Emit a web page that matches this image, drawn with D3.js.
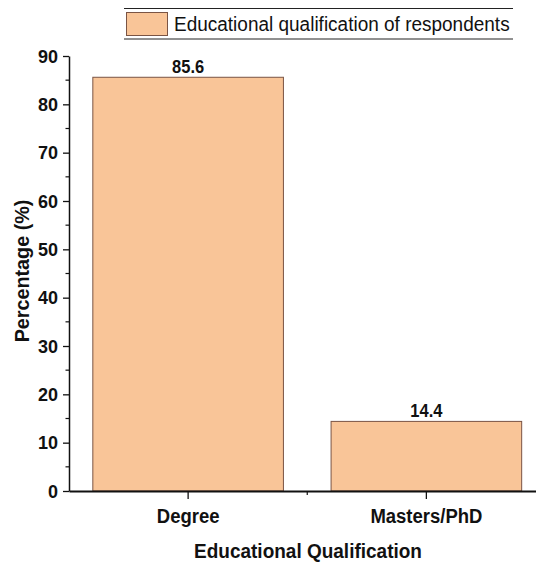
<!DOCTYPE html>
<html>
<head>
<meta charset="utf-8">
<script src="https://cdn.jsdelivr.net/npm/d3@7"></script>
<style>
html,body{margin:0;padding:0;background:#fff;}
svg{display:block;}
text{font-family:"Liberation Sans",Arial,sans-serif;fill:#111;}
</style>
</head>
<body>
<svg id="chart" width="536" height="567"></svg>
<script>
const categories = ["Degree", "Masters/PhD"];
const values = [85.6, 14.4];
const yTicks = [0, 10, 20, 30, 40, 50, 60, 70, 80, 90];
const legendLabel = "Educational qualification of respondents";
const xTitle = "Educational Qualification";
const yTitle = "Percentage (%)";

const svg = d3.select("#chart");
const mLeft = 69, mRight = 545.5, mTop = 56, mBottom = 491;
const vStretch = 1.06;

const x = d3.scaleBand().domain(categories).range([mLeft, mRight]).paddingInner(0.2).paddingOuter(0.1);
const y = d3.scaleLinear().domain([0, 90]).range([mBottom, mTop]);

const fill = "#F9C598", stroke = "#7a5444";

// bars
svg.selectAll("rect.bar").data(values).enter().append("rect")
  .attr("class", "bar")
  .attr("x", (d, i) => x(categories[i]))
  .attr("y", d => y(d))
  .attr("width", x.bandwidth())
  .attr("height", d => y(0) - y(d))
  .attr("fill", fill).attr("stroke", stroke).attr("stroke-width", 1);

// bar labels
svg.selectAll("text.val").data(values).enter().append("text")
  .attr("class", "val")
  .attr("transform", (d, i) => `translate(${x(categories[i]) + x.bandwidth() / 2},${y(d) - 4.5}) scale(1,${vStretch})`)
  .attr("text-anchor", "middle")
  .style("font-size", "16.5px").style("font-weight", "bold")
  .text(d => d.toFixed(1));

// y axis
const yAxis = d3.axisLeft(y).tickValues(yTicks).tickSize(6).tickPadding(4).tickSizeOuter(0);
const gy = svg.append("g").attr("transform", `translate(${mLeft},0)`).call(yAxis);
gy.select(".domain").attr("stroke", "#111").attr("stroke-width", 1.5);
gy.selectAll(".tick line").attr("stroke", "#111").attr("stroke-width", 1.3);
gy.selectAll(".tick text").style("font-size", "18px").style("font-weight", "bold")
  .style("font-family", "'Liberation Sans',Arial,sans-serif").attr("fill", "#111")
  .attr("x", -11).attr("transform", `scale(1,${vStretch})`);
// y minor ticks
const yMinor = d3.range(5, 90, 10);
gy.selectAll("line.minor").data(yMinor).enter().append("line")
  .attr("class", "minor")
  .attr("x1", 0).attr("x2", -3.5)
  .attr("y1", d => y(d)).attr("y2", d => y(d))
  .attr("stroke", "#111").attr("stroke-width", 1.2);

// x axis
const xAxis = d3.axisBottom(x).tickSize(8).tickPadding(9).tickSizeOuter(0);
const gx = svg.append("g").attr("transform", `translate(0,${mBottom})`).call(xAxis);
gx.select(".domain").attr("stroke", "#111").attr("stroke-width", 1.8);
gx.selectAll(".tick line").attr("stroke", "#111").attr("stroke-width", 1.3);
gx.selectAll(".tick text").style("font-size", "18.5px").style("font-weight", "bold")
  .style("font-family", "'Liberation Sans',Arial,sans-serif").attr("fill", "#111")
  .attr("transform", `scale(1,${vStretch})`);
// x minor tick between categories
const step = x.step();
gx.append("line")
  .attr("x1", x(categories[0]) + x.bandwidth() / 2 + step / 2)
  .attr("x2", x(categories[0]) + x.bandwidth() / 2 + step / 2)
  .attr("y1", 0).attr("y2", 4)
  .attr("stroke", "#111").attr("stroke-width", 1.2);

// axis titles
svg.append("text")
  .attr("transform", `translate(308,558) scale(1,${vStretch})`)
  .attr("text-anchor", "middle")
  .style("font-size", "19px").style("font-weight", "bold")
  .text(xTitle);

svg.append("text")
  .attr("transform", `translate(28.5,271) rotate(-90) scale(1.04,${vStretch})`)
  .attr("text-anchor", "middle")
  .style("font-size", "19px").style("font-weight", "bold")
  .text(yTitle);

// legend
const lg = svg.append("g");
lg.append("line").attr("x1", 124).attr("x2", 513).attr("y1", 8.5).attr("y2", 8.5)
  .attr("stroke", "#222").attr("stroke-width", 1);
lg.append("line").attr("x1", 124).attr("x2", 513).attr("y1", 39).attr("y2", 39)
  .attr("stroke", "#222").attr("stroke-width", 1);
lg.append("rect").attr("x", 126.5).attr("y", 12.5).attr("width", 41).attr("height", 23)
  .attr("fill", fill).attr("stroke", stroke).attr("stroke-width", 1);
lg.append("text")
  .attr("transform", `translate(174,30.5) scale(1,${vStretch})`)
  .style("font-size", "19px")
  .text(legendLabel);
</script>
</body>
</html>
